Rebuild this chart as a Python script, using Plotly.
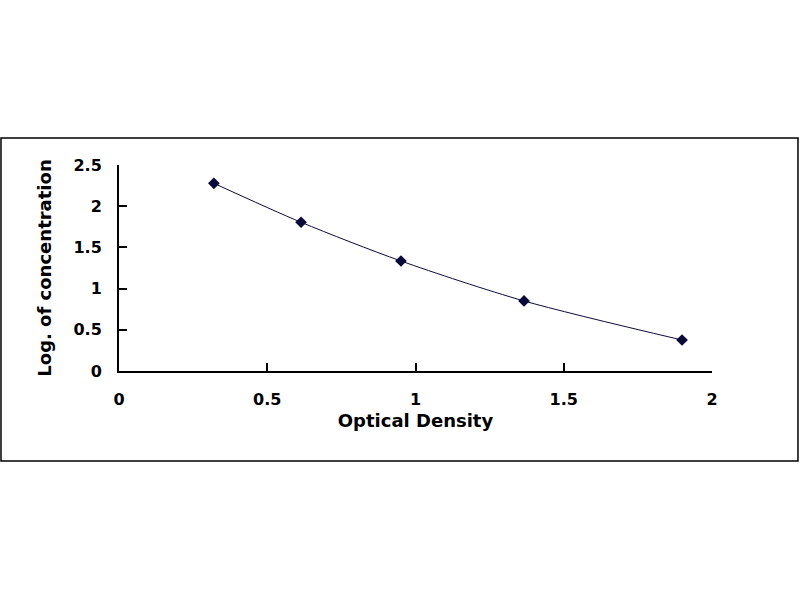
import plotly.graph_objects as go

optical_density = [0.320, 0.614, 0.951, 1.366, 1.899]
log_concentration = [2.278, 1.805, 1.335, 0.850, 0.376]

x_ticks = [0, 0.5, 1, 1.5, 2]
x_tick_labels = ["0", "0.5", "1", "1.5", "2"]
y_ticks = [0, 0.5, 1, 1.5, 2, 2.5]
y_tick_labels = ["0", "0.5", "1", "1.5", "2", "2.5"]

FONT = "DejaVu Sans"
INK = "#0a0a3a"

fig = go.Figure()
fig.add_trace(go.Scatter(
    x=optical_density, y=log_concentration,
    mode="lines+markers",
    line=dict(color=INK, width=1, shape="spline", smoothing=0.8),
    marker=dict(symbol="diamond", size=9, color=INK),
    showlegend=False,
    hoverinfo="x+y",
))

axis_common = dict(
    showgrid=False, zeroline=False, showline=True, linecolor="black", linewidth=2,
    ticks="inside", ticklen=8, tickwidth=2, tickcolor="black",
    tickfont=dict(family=FONT, size=16, color="black", weight="bold"),
)

fig.update_layout(
    width=800, height=600,
    paper_bgcolor="white", plot_bgcolor="white",
    margin=dict(l=119, r=88, t=165, b=229),
    xaxis=dict(
        range=[0, 2], tickvals=x_ticks, ticktext=x_tick_labels,
        ticklabelstandoff=13,
        title=dict(text="<b>Optical Density</b>", standoff=6,
                   font=dict(family=FONT, size=18, color="black")),
        **axis_common,
    ),
    yaxis=dict(
        range=[0, 2.5], tickvals=y_ticks, ticktext=y_tick_labels,
        ticklabelstandoff=12,
        title=dict(text="<b>Log. of concentration</b>", standoff=17,
                   font=dict(family=FONT, size=18, color="black")),
        **axis_common,
    ),
    shapes=[dict(
        type="rect", xref="paper", yref="paper",
        x0=-0.199, x1=1.145, y0=-0.437, y1=1.131,
        line=dict(color="black", width=1.5), fillcolor="rgba(0,0,0,0)",
        layer="below",
    )],
)

fig.write_html(
    "out.html",
    config={"displayModeBar": False},
    post_script="document.body.style.margin='0';document.documentElement.style.overflow='hidden';",
)
